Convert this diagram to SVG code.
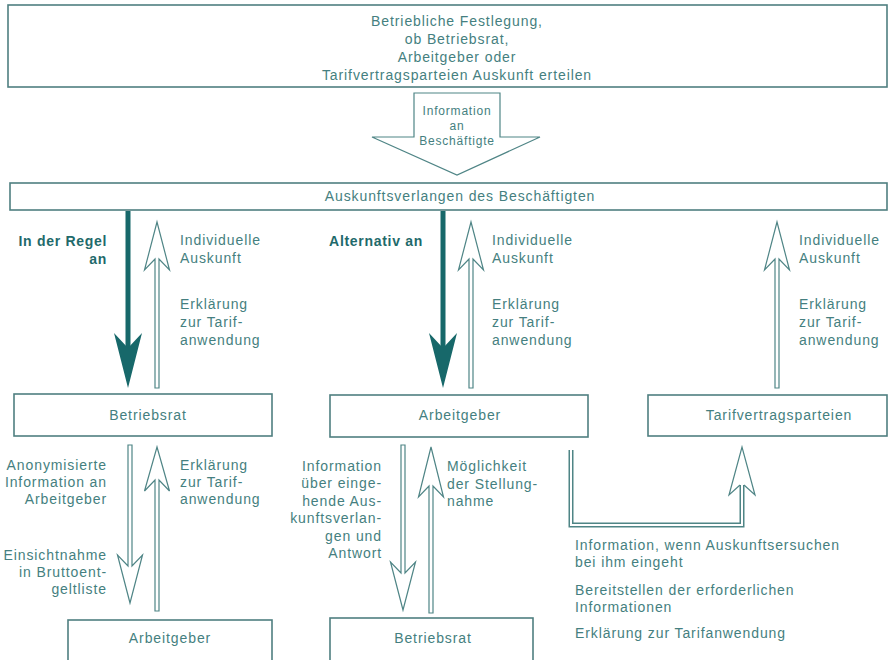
<svg xmlns="http://www.w3.org/2000/svg" width="895" height="660" viewBox="0 0 895 660">
<defs>
<style>
.box{fill:#fff;stroke:#4f7f80;stroke-width:1.6}
.t{font-family:"Liberation Sans",Arial,sans-serif;font-size:14px;letter-spacing:0.9px;fill:#457f80}
.tb{font-family:"Liberation Sans",Arial,sans-serif;font-size:14px;font-weight:bold;letter-spacing:0.7px;fill:#1f6a6b}
.s{font-size:12px;letter-spacing:0.8px}
.c{text-anchor:middle}
.e{text-anchor:end}
.hol{fill:#fff;stroke:#4f8586;stroke-width:1.2;stroke-linejoin:miter}
.thick{stroke:#17686a;stroke-width:5;fill:none}
.head{fill:#17686a}
.dbl-o{fill:none;stroke:#4f8586;stroke-width:5}
.dbl-i{fill:none;stroke:#fff;stroke-width:2}
</style>
</defs>
<rect width="895" height="660" fill="#fff"/>

<g id="festlegung">
<rect class="box" x="8" y="5" width="879" height="82"/>
<text class="t c" x="457" y="26">Betriebliche Festlegung,</text>
<text class="t c" x="457" y="44">ob Betriebsrat,</text>
<text class="t c" x="457" y="62">Arbeitgeber oder</text>
<text class="t c" x="457" y="80">Tarifvertragsparteien Auskunft erteilen</text>
</g>

<g id="info-beschaeftigte">
<polygon class="hol" points="414,93 500,93 500,137 540,137 457,175 372,137 414,137"/>
<text class="t s c" x="457" y="115">Information</text>
<text class="t s c" x="457" y="130">an</text>
<text class="t s c" x="457" y="145">Beschäftigte</text>
</g>

<g id="auskunftsverlangen">
<rect class="box" x="10" y="183" width="877" height="27"/>
<text class="t c" x="460" y="201">Auskunftsverlangen des Beschäftigten</text>
</g>

<g id="betriebsrat1">
<rect class="box" x="14" y="394" width="258" height="42"/>
<text class="t c" x="148" y="420">Betriebsrat</text>
</g>
<g id="arbeitgeber1">
<rect class="box" x="330" y="395" width="258" height="42"/>
<text class="t c" x="460" y="420">Arbeitgeber</text>
</g>
<g id="tarifvertragsparteien">
<rect class="box" x="648" y="395" width="239" height="41"/>
<text class="t c" x="779" y="420">Tarifvertragsparteien</text>
</g>
<g id="arbeitgeber2">
<rect class="box" x="68" y="620" width="204" height="50"/>
<text class="t c" x="170" y="643">Arbeitgeber</text>
</g>
<g id="betriebsrat2">
<rect class="box" x="330" y="618" width="203" height="52"/>
<text class="t c" x="433" y="643">Betriebsrat</text>
</g>

<g id="connectors">
<!-- thick down arrows -->
<line class="thick" x1="128" y1="211" x2="128" y2="352"/>
<polygon class="head" points="128,388 142,333 128,348 114,333"/>
<line class="thick" x1="443" y1="211" x2="443" y2="352"/>
<polygon class="head" points="443,388 457,333 443,348 429,333"/>
<!-- hollow up arrows upper row -->
<polygon class="hol" points="157,222 169.5,270 159,259 159,388 155,388 155,259 144.5,270"/>
<polygon class="hol" points="471,222 483.5,270 473,259 473,388 469,388 469,259 458.5,270"/>
<polygon class="hol" points="777,222 789.5,270 779,259 779,388 775,388 775,259 764.5,270"/>
<!-- lower left -->
<polygon class="hol" points="128,445 132,445 132,566 142.5,555 130,603 117.5,555 128,566"/>
<polygon class="hol" points="157,447 169.5,491 159,480 159,611 155,611 155,480 144.5,491"/>
<!-- lower middle -->
<polygon class="hol" points="401,445 405,445 405,573 415.5,562 403,610 390.5,562 401,573"/>
<polygon class="hol" points="431,447 443.5,497 433,486 433,613 429,613 429,486 418.5,497"/>
<!-- Arbeitgeber to Tarifvertragsparteien -->
<path class="dbl-o" d="M571,450 V525 H742 V484"/>
<path class="dbl-i" d="M571,450 V525 H742 V483"/>
<path class="hol" d="M744,485 L755,495 L742,447 L729,495 L740,485"/>
</g>

<g id="labels">
<text class="tb e" x="107" y="246">In der Regel</text>
<text class="tb e" x="107" y="264">an</text>
<text class="t" x="180" y="245">Individuelle</text>
<text class="t" x="180" y="263">Auskunft</text>
<text class="t" x="180" y="309">Erklärung</text>
<text class="t" x="180" y="327">zur Tarif-</text>
<text class="t" x="180" y="345">anwendung</text>

<text class="tb e" x="423" y="246">Alternativ an</text>
<text class="t" x="492" y="245">Individuelle</text>
<text class="t" x="492" y="263">Auskunft</text>
<text class="t" x="492" y="309">Erklärung</text>
<text class="t" x="492" y="327">zur Tarif-</text>
<text class="t" x="492" y="345">anwendung</text>

<text class="t" x="799" y="245">Individuelle</text>
<text class="t" x="799" y="263">Auskunft</text>
<text class="t" x="799" y="309">Erklärung</text>
<text class="t" x="799" y="327">zur Tarif-</text>
<text class="t" x="799" y="345">anwendung</text>

<text class="t e" x="107" y="470">Anonymisierte</text>
<text class="t e" x="107" y="487">Information an</text>
<text class="t e" x="107" y="504">Arbeitgeber</text>
<text class="t e" x="107" y="560">Einsichtnahme</text>
<text class="t e" x="107" y="577">in Bruttoent-</text>
<text class="t e" x="107" y="594">geltliste</text>
<text class="t" x="180" y="470">Erklärung</text>
<text class="t" x="180" y="487">zur Tarif-</text>
<text class="t" x="180" y="504">anwendung</text>

<text class="t e" x="382" y="471">Information</text>
<text class="t e" x="382" y="488">über einge-</text>
<text class="t e" x="382" y="506">hende Aus-</text>
<text class="t e" x="382" y="523">kunftsverlan-</text>
<text class="t e" x="382" y="541">gen und</text>
<text class="t e" x="382" y="558">Antwort</text>
<text class="t" x="447" y="471">Möglichkeit</text>
<text class="t" x="447" y="489">der Stellung-</text>
<text class="t" x="447" y="506">nahme</text>

<text class="t" x="575" y="550">Information, wenn Auskunftsersuchen</text>
<text class="t" x="575" y="567">bei ihm eingeht</text>
<text class="t" x="575" y="595">Bereitstellen der erforderlichen</text>
<text class="t" x="575" y="612">Informationen</text>
<text class="t" x="575" y="638">Erklärung zur Tarifanwendung</text>
</g>
</svg>
